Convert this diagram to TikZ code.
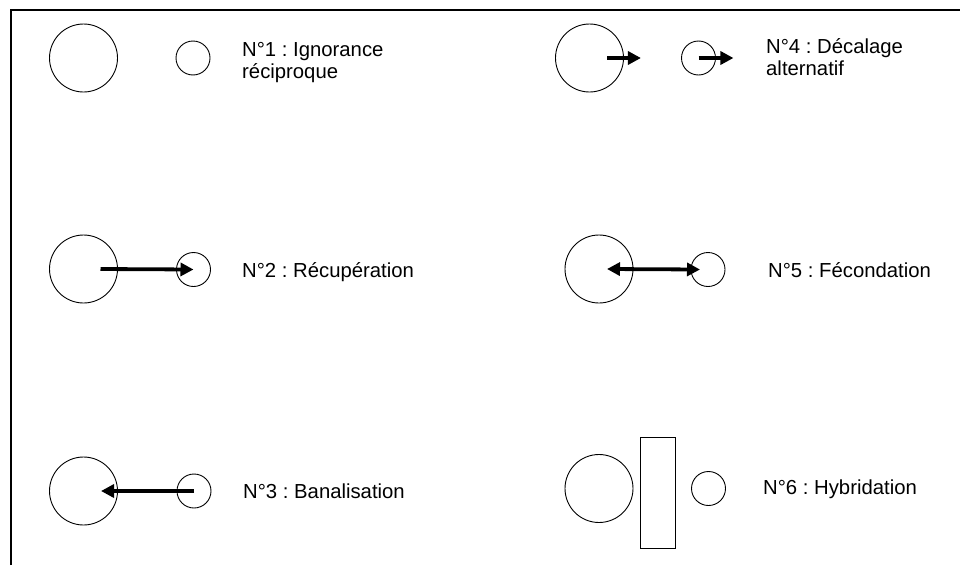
\documentclass[tikz,border=0pt]{standalone}
\usepackage{fontspec}
\setmainfont{Liberation Sans}
\usetikzlibrary{arrows.meta}
\frenchspacing

\begin{document}
\begin{tikzpicture}[x=1pt,y=-1pt,
  big/.style={draw,circle,line width=0.9pt,minimum size=68pt,inner sep=0pt},
  small/.style={draw,circle,line width=0.9pt,minimum size=34pt,inner sep=0pt},
  flow/.style={line width=3.8pt,>={Triangle[length=13pt,width=13pt]},->},
  lbl/.style={anchor=north west,inner sep=0pt,align=left,font=\fontsize{20.3}{22}\selectfont}]
  \useasboundingbox (0,0) rectangle (960,565);
  \draw[line width=1.8pt] (11,565) -- (11,10) -- (960,10);

  %left column
  \node[big] (b1) at (83.5,58) {};
  \node[small] (s1) at (193,58) {};
  \node[lbl] (t1) at (242,42) {N°1 : Ignorance\\réciproque};

  \node[big] (b2) at (83.5,269) {};
  \node[small] (s2) at (193.5,269.5) {};
  \draw[flow] ([xshift=17pt]b2.center) -- (s2.center);
  \node[lbl] (t2) at (242,262) {N°2 : Récupération};

  \node[big] (b3) at (83.5,491) {};
  \node[small] (s3) at (194,491) {};
  \draw[flow] (s3.center) -- ([xshift=17.5pt]b3.center);
  \node[lbl] (t3) at (243,484) {N°3 : Banalisation};

  %right column
  \node[big] (b4) at (589.5,58) {};
  \node[small] (s4) at (698.5,58) {};
  \draw[flow] ([xshift=17.5pt]b4.center) -- ([xshift=17pt]b4.east);
  \draw[flow] (s4.center) -- ([xshift=17.5pt]s4.east);
  \node[lbl] (t4) at (766,38) {N°4 : Décalage\\alternatif};

  \node[big] (b5) at (599,269) {};
  \node[small] (s5) at (708,269.5) {};
  \draw[flow,<->] ([xshift=8pt]b5.center) -- ([xshift=-8pt]s5.center);
  \node[lbl] (t5) at (768,262) {N°5 : Fécondation};

  \node[big] (b6) at (599,488.5) {};
  \node[draw,line width=0.9pt,minimum width=35pt,minimum height=111pt,inner sep=0pt] (wall) at (657.5,492.5) {};
  \node[small] (s6) at (708.5,488.5) {};
  \node[lbl] (t6) at (763,480) {N°6 : Hybridation};
\end{tikzpicture}
\end{document}
